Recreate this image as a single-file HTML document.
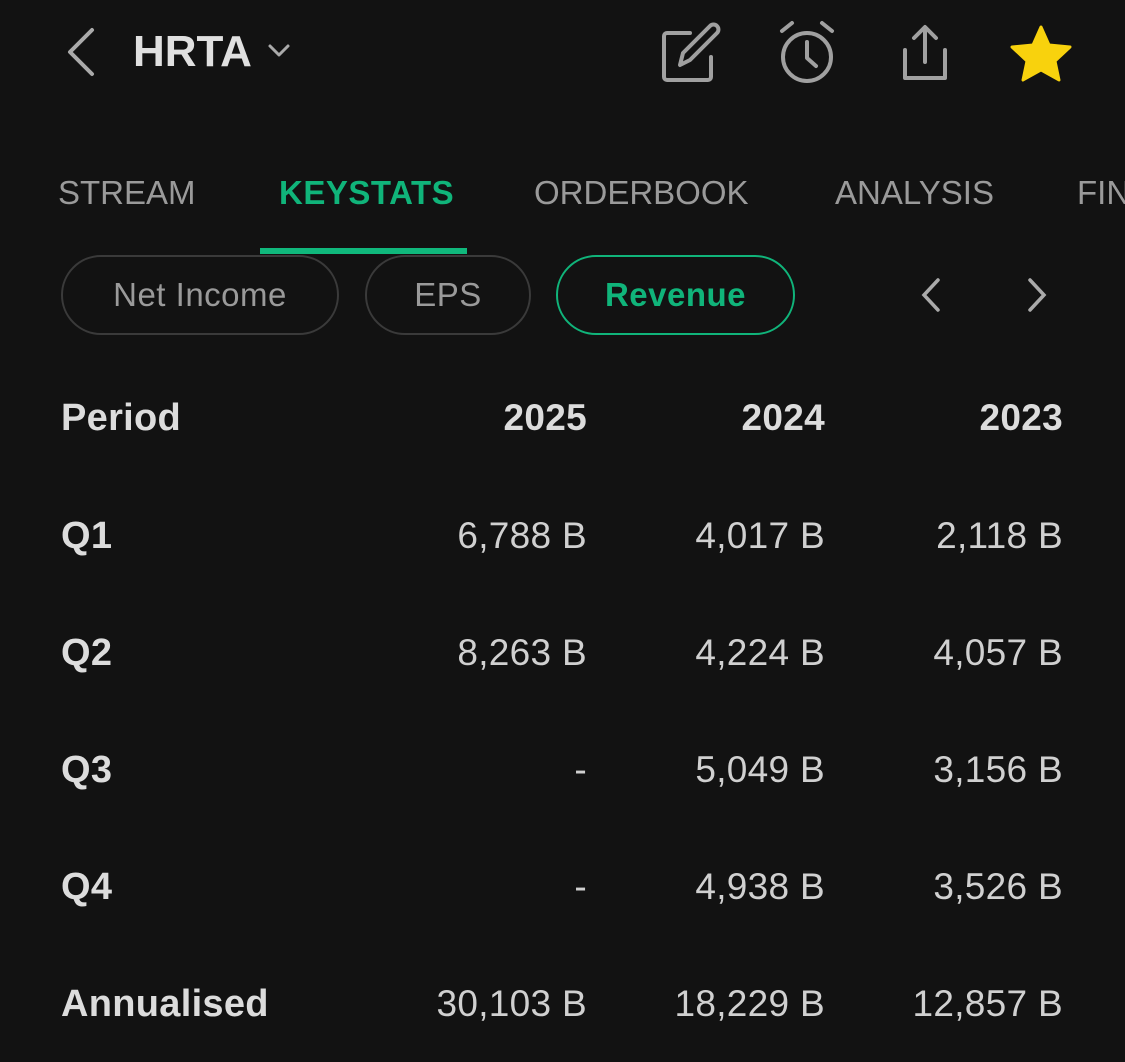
<!DOCTYPE html>
<html><head><meta charset="utf-8"><style>
body{margin:0;width:1125px;height:1062px;background:#121212;overflow:hidden;font-family:"Liberation Sans",sans-serif;position:relative}
.a{position:absolute;white-space:nowrap}
.tab{font-size:33px;color:#9a9a9a;top:173px;line-height:40px}
.pill{position:absolute;top:255px;height:76px;border:2px solid #3a3a3a;border-radius:40px;color:#9a9a9a;font-size:33px;line-height:76px;text-align:center;letter-spacing:0.5px}
.lbl{left:61px;font-size:38px;font-weight:bold;color:#dcdcdc;line-height:40px;letter-spacing:0.3px}
.v{font-size:37px;color:#d0d0d0;line-height:40px;text-align:right;width:240px;letter-spacing:0.3px}
</style></head><body>
<svg class="a" style="left:0;top:0" width="1125" height="120">
<polyline points="92,30 70,52 92,74" fill="none" stroke="#aaa" stroke-width="4" stroke-linecap="round" stroke-linejoin="round"/>
<polyline points="270,46 279,55 288,46" fill="none" stroke="#aaa" stroke-width="3" stroke-linecap="round" stroke-linejoin="round"/>
<g fill="none" stroke="#a0a0a0" stroke-width="4" stroke-linecap="round" stroke-linejoin="round">
<path d="M690 33 H667 a3 3 0 0 0 -3 3 V77 a3 3 0 0 0 3 3 H708 a3 3 0 0 0 3 -3 V57"/>
<path d="M680 65 l3 -12 l27 -27 a4 4 0 0 1 7 7 l-27 27 z"/>
<circle cx="807" cy="57" r="24"/><path d="M807 42 V58 L816 66"/><path d="M782 31 l10 -8 M832 31 l-10 -8"/>
<path d="M905 50 V78 H945 V50"/><path d="M925 62 V28 M914 38 l11 -11 l11 11"/>
</g>
<polygon points="1041,27 1049,45 1070,47 1055,61 1059,80 1041,70 1023,80 1027,61 1012,47 1033,45" fill="#f8d20d" stroke="#f8d20d" stroke-width="3" stroke-linejoin="round"/>
</svg>
<div class="a" style="left:133px;top:29px;font-size:44px;font-weight:bold;color:#e0e0e0;line-height:46px">HRTA</div>
<div class="a tab" style="left:58px">STREAM</div>
<div class="a tab" style="left:279px;color:#10b47a;font-weight:bold;letter-spacing:0.5px">KEYSTATS</div>
<div class="a tab" style="left:534px">ORDERBOOK</div>
<div class="a tab" style="left:835px">ANALYSIS</div>
<div class="a tab" style="left:1077px">FIN</div>
<div class="a" style="left:260px;top:248px;width:207px;height:6px;background:#10b87c"></div>
<div class="pill" style="left:61px;width:274px">Net Income</div>
<div class="pill" style="left:365px;width:162px">EPS</div>
<div class="pill" style="left:556px;width:235px;border-color:#10b47a;color:#10b47a;font-weight:bold">Revenue</div>
<svg class="a" style="left:900px;top:270px" width="160" height="50"><polyline points="38,10 24,25 38,40" fill="none" stroke="#aaa" stroke-width="3.5" stroke-linecap="round"/><polyline points="130,10 144,25 130,40" fill="none" stroke="#aaa" stroke-width="3.5" stroke-linecap="round"/></svg>
<div class="a lbl" style="top:398px">Period</div>
<div class="a v" style="left:347px;top:398px;font-weight:bold;color:#dcdcdc">2025</div>
<div class="a v" style="left:585px;top:398px;font-weight:bold;color:#dcdcdc">2024</div>
<div class="a v" style="left:823px;top:398px;font-weight:bold;color:#dcdcdc">2023</div>
<div class="a lbl" style="top:516px">Q1</div>
<div class="a v" style="left:347px;top:516px">6,788 B</div><div class="a v" style="left:585px;top:516px">4,017 B</div><div class="a v" style="left:823px;top:516px">2,118 B</div>
<div class="a lbl" style="top:633px">Q2</div>
<div class="a v" style="left:347px;top:633px">8,263 B</div><div class="a v" style="left:585px;top:633px">4,224 B</div><div class="a v" style="left:823px;top:633px">4,057 B</div>
<div class="a lbl" style="top:750px">Q3</div>
<div class="a v" style="left:347px;top:750px">-</div><div class="a v" style="left:585px;top:750px">5,049 B</div><div class="a v" style="left:823px;top:750px">3,156 B</div>
<div class="a lbl" style="top:867px">Q4</div>
<div class="a v" style="left:347px;top:867px">-</div><div class="a v" style="left:585px;top:867px">4,938 B</div><div class="a v" style="left:823px;top:867px">3,526 B</div>
<div class="a lbl" style="top:984px">Annualised</div>
<div class="a v" style="left:347px;top:984px">30,103 B</div><div class="a v" style="left:585px;top:984px">18,229 B</div><div class="a v" style="left:823px;top:984px">12,857 B</div>
</body></html>
